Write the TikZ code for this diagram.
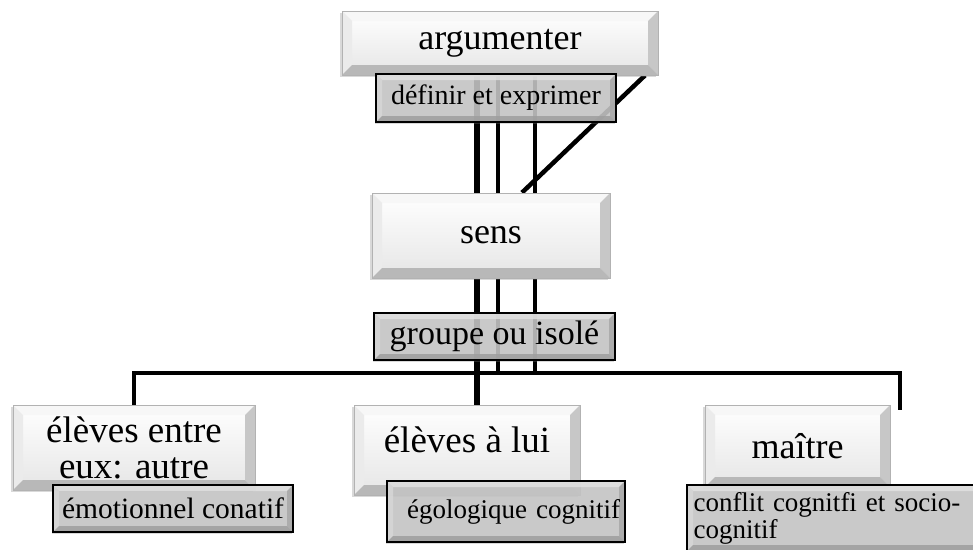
\documentclass[tikz,border=0pt]{standalone}
\usepackage{fontspec}
\setmainfont{Liberation Serif}
\usetikzlibrary{calc,shadows,backgrounds}

\begin{document}
\begin{tikzpicture}[x=1pt,y=-1pt,
		bevel/.style n args={5}{path picture={
			\coordinate (pa) at (path picture bounding box.north west);
			\coordinate (pb) at (path picture bounding box.north east);
			\coordinate (pc) at (path picture bounding box.south east);
			\coordinate (pd) at (path picture bounding box.south west);
			\fill[#2] (pa) -- (pb) -- ($(pb)+(-#1,#1)$) -- ($(pa)+(#1,#1)$) -- cycle;
			\fill[#3] (pd) -- (pa) -- ($(pa)+(#1,#1)$) -- ($(pd)+(#1,-#1)$) -- cycle;
			\fill[#4] (pb) -- (pc) -- ($(pc)+(-#1,-#1)$) -- ($(pb)+(-#1,#1)$) -- cycle;
			\fill[#5] (pc) -- (pd) -- ($(pd)+(#1,-#1)$) -- ($(pc)+(-#1,-#1)$) -- cycle;
		}},
		box/.style={rectangle, draw=black!30, line width=0.8pt, top color=white, bottom color=black!10,
			bevel={10}{black!3}{black!8}{black!22}{black!28},
			drop shadow={shadow xshift=-2pt, shadow yshift=-2pt, opacity=0.3},
			font=\fontsize{36}{36}\selectfont, align=center, inner sep=0pt},
		tag/.style={rectangle, draw=black, line width=2.5pt, fill=black!22, fill opacity=0.85, text opacity=1,
			bevel={6}{black!12}{black!16}{black!34}{black!38},
			drop shadow={shadow xshift=-1.5pt, shadow yshift=-2pt, opacity=0.3},
			font=\fontsize{28}{27}\selectfont, inner sep=0pt},
		link/.style={line width=4.5pt},
		trunk/.style={line width=6.5pt}]
		\useasboundingbox (0,0) rectangle (973,549);

		\node[box, minimum width=316, minimum height=64] (arg) at (500,43) {argumenter};
		\node[tag, minimum width=240, minimum height=48] (def) at (496,98) {définir et exprimer};
		\node[box, minimum width=238, minimum height=85] (sens) at (491,235.5) {sens};
		\node[tag, font=\fontsize{34}{34}\selectfont, minimum width=241, minimum height=47] (grp) at (494.5,336.5) {groupe ou isolé};

		\node[box, font=\fontsize{37}{36}\selectfont, minimum width=242, minimum height=85] (autre) at (134,447.5) {élèves entre\\eux: autre};
		\node[tag, font=\fontsize{29.5}{30}\selectfont, minimum width=240, minimum height=47] (emo) at (173,508.5) {émotionnel conatif};
		\node[box, font=\fontsize{37}{37}\selectfont, text depth=20pt, minimum width=226, minimum height=90] (lui) at (467,450) {élèves à lui};
		\node[tag, font=\fontsize{27}{27}\selectfont, text width=228, align=right, minimum width=238, minimum height=61] (ego) at (506,511.5) {égologique cognitif};
		\node[box, minimum width=185, minimum height=82] (mai) at (797.5,446) {maître};
		\node[tag, font=\fontsize{27}{27}\selectfont, text width=290, align=left, minimum width=303, minimum height=66] (conf) at (838.5,518) {conflit cognitfi et socio-\\cognitif};

		\coordinate (ca) at (477,0);
		\coordinate (cb) at (498,0);
		\coordinate (cc) at (535,0);
		\coordinate (hr) at (900,373);
		\coordinate (hend) at (900,410);

		\begin{scope}[on background layer]
			\path[trunk] (arg.south -| ca) edge (sens.north -| ca);
			\path[link] (arg.south -| cb) edge (sens.north -| cb);
			\path[link] (arg.south -| cc) edge (sens.north -| cc);
			\path[link] ([xshift=145]arg.south) edge ([xshift=31]sens.north);

			\path[trunk] (sens.south -| ca) edge (lui.north -| ca);
			\path[link] (sens.south -| cb) edge (hr -| cb);
			\path[link] (sens.south -| cc) edge (hr -| cc);
			\draw[link] (autre.north) |- (hr) -- (hend);
		\end{scope}
	\end{tikzpicture}
\end{document}
